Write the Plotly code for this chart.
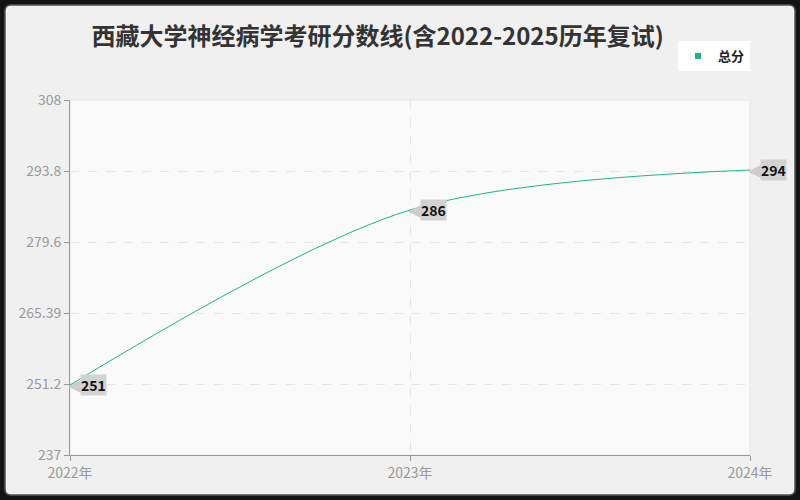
import plotly.graph_objects as go

years = ["2022年", "2023年", "2024年"]
total_scores = [251, 286, 294]
y_ticks = [237, 251.2, 265.39, 279.6, 293.8, 308]
y_tick_text = ["237", "251.2", "265.39", "279.6", "293.8", "308"]

line_color = "#1ab58a"
font_family = "Noto Sans CJK SC, Noto Sans, sans-serif"

fig = go.Figure()
fig.add_trace(go.Scatter(
    x=years,
    y=total_scores,
    mode="lines",
    name="总分",
    showlegend=False,
    line=dict(color=line_color, width=1, shape="spline", smoothing=0.9),
))
# legend entry with square swatch
fig.add_trace(go.Scatter(
    x=[None], y=[None], mode="markers", name="<b>总分</b>",
    marker=dict(symbol="square", size=6, color=line_color),
))

# callout labels at each point
for yr, val in zip(years, total_scores):
    fig.add_annotation(
        x=yr, y=val, text="◀", showarrow=False,
        xanchor="left", xshift=-4, yshift=0,
        font=dict(size=17, color="#cccccc", family="DejaVu Sans"),
    )
    fig.add_annotation(
        x=yr, y=val, text="<b>" + str(val) + "</b>", showarrow=False,
        xanchor="left", xshift=10,
        bgcolor="#d2d2d2", borderpad=0,
        font=dict(size=14, color="#111111", family=font_family),
    )

# outer rounded frame
x0, x1 = -0.0956, 1.0662
y0, y1 = -0.1127, 1.2676
rx, ry = 0.009, 0.017
frame_path = (
    f"M {x0 + rx} {y1} L {x1 - rx} {y1} Q {x1} {y1} {x1} {y1 - ry} "
    f"L {x1} {y0 + ry} Q {x1} {y0} {x1 - rx} {y0} "
    f"L {x0 + rx} {y0} Q {x0} {y0} {x0} {y0 + ry} "
    f"L {x0} {y1 - ry} Q {x0} {y1} {x0 + rx} {y1} Z"
)
fig.add_shape(
    type="path", path=frame_path, xref="paper", yref="paper",
    fillcolor="#f0f0f0", line=dict(color="#555555", width=1.5), layer="below",
)
# plot area background (drawn over the frame)
fig.add_shape(
    type="rect", x0=0, x1=1, y0=0, y1=1, xref="paper", yref="paper",
    fillcolor="#fafafa", line=dict(color="#e6e6e6", width=1), layer="below",
)

fig.update_layout(
    width=800,
    height=500,
    paper_bgcolor="#141414",
    plot_bgcolor="#fafafa",
    margin=dict(l=70, r=50, t=100, b=45, autoexpand=False),
    font=dict(family=font_family, size=14, color="#999999"),
    title=dict(
        text="<b>西藏大学神经病学考研分数线(含2022-2025历年复试)</b>",
        x=0.472, xanchor="center", y=0.926, yanchor="middle",
        font=dict(size=24, color="#333333", family=font_family),
    ),
    showlegend=True,
    legend=dict(
        x=1.0, xanchor="right", y=1.124, yanchor="middle",
        bgcolor="#ffffff", bordercolor="#ffffff", borderwidth=0,
        font=dict(size=13, color="#222222", family=font_family),
        itemwidth=30,
    ),
)

fig.update_xaxes(
    type="category",
    range=[0, 2],
    showgrid=True,
    gridcolor="#e6e6e6",
    griddash="dash",
    showline=True,
    linecolor="#999999",
    ticks="outside",
    ticklen=5,
    tickcolor="#999999",
    tickfont=dict(size=14, color="#999999"),
    zeroline=False,
)
fig.update_yaxes(
    range=[237, 308],
    tickvals=y_ticks,
    ticktext=y_tick_text,
    showgrid=True,
    gridcolor="#e6e6e6",
    griddash="dash",
    showline=True,
    linecolor="#999999",
    ticks="outside",
    ticklen=5,
    tickcolor="#999999",
    tickfont=dict(size=14, color="#999999"),
    zeroline=False,
)

# page body has a default 8px margin; drop it so the figure fills the window
fig.write_html(
    "out.html",
    config={"displayModeBar": False},
    post_script="document.body.style.margin='0';",
)
